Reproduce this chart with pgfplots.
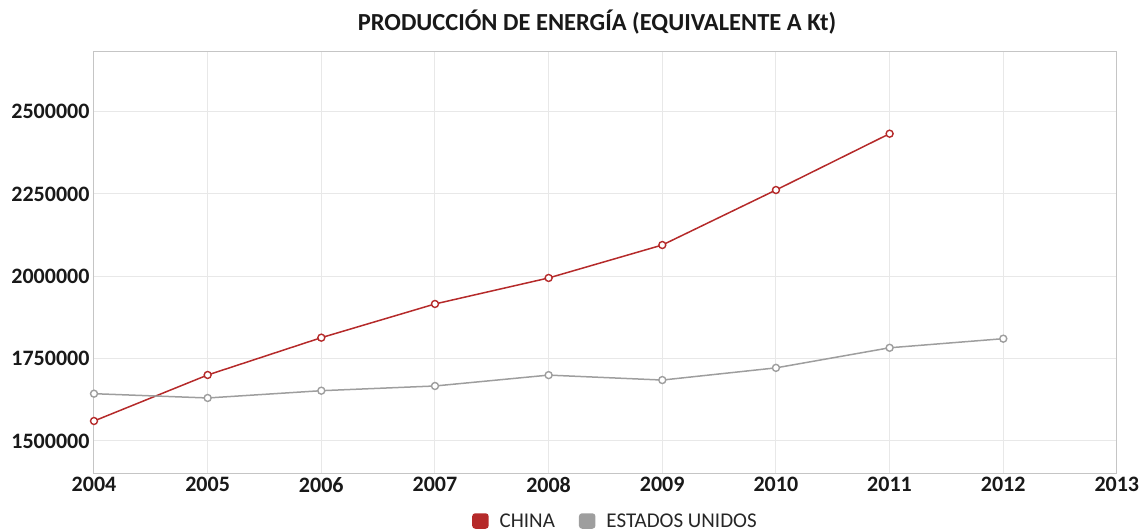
\documentclass[border=0pt]{standalone}
\usepackage{pgfplots}
\pgfplotsset{compat=1.18}
\usepackage{fontspec}
\setmainfont{Carlito}
\definecolor{cnred}{HTML}{B52A2A}
\definecolor{usgrey}{HTML}{9E9E9E}
\definecolor{gridc}{HTML}{E8E8E8}
\begin{document}
\begin{tikzpicture}[x=1pt,y=1pt]
\useasboundingbox (0,0) rectangle (1141,531);
\node[font=\fontsize{24.5}{28}\selectfont\bfseries, text=black!90] at (597,509) {PRODUCCIÓN DE ENERGÍA (EQUIVALENTE A Kt)};
\begin{axis}[
  at={(94pt,58pt)}, anchor=south west,
  scale only axis, width=1023pt, height=421pt,
  xmin=2004, xmax=2013, ymin=1402800, ymax=2681000,
  xtick={2004,...,2013},
  ytick={1500000,1750000,2000000,2250000,2500000},
  grid=major, major grid style={gridc, line width=1pt},
  axis line style={gridc!85!black, line width=1pt},
  tick style={draw=none},
  /pgf/number format/assume math mode=true,
  /pgf/number format/fixed,
  /pgf/number format/1000 sep={},
  scaled y ticks=false,
  ticklabel style={font=\fontsize{22}{26}\selectfont\bfseries, text=black!90},
  xticklabel style={yshift=-1pt},
  yticklabel style={xshift=-1pt},
  legend style={at={(0.5,0)}, anchor=center, xshift=10pt, yshift=-48pt, draw=none, fill=none,
    legend columns=2, font=\fontsize{21}{24}\selectfont, text=black!85,
    /tikz/every odd column/.append style={column sep=9pt},
    /tikz/every even column/.append style={column sep=22pt}},
  legend image code/.code={\fill[#1, rounded corners=2.5pt] (0pt,-7pt) rectangle (15pt,7pt);},
]
\addplot[cnred, line width=1.5pt, mark=*, mark size=3.5pt, mark options={fill=white, line width=1.4pt}]
  coordinates {(2004,1560700) (2005,1700400) (2006,1813700) (2007,1916000) (2008,1995000) (2009,2095000) (2010,2262000) (2011,2433000)};
\addlegendentry{CHINA}
\addplot[usgrey, line width=1.5pt, mark=*, mark size=3.5pt, mark options={fill=white, line width=1.4pt}]
  coordinates {(2004,1643600) (2005,1630600) (2006,1652700) (2007,1667000) (2008,1700000) (2009,1685000) (2010,1722000) (2011,1783000) (2012,1810600)};
\addlegendentry{ESTADOS UNIDOS}
\end{axis}
\end{tikzpicture}
\end{document}
